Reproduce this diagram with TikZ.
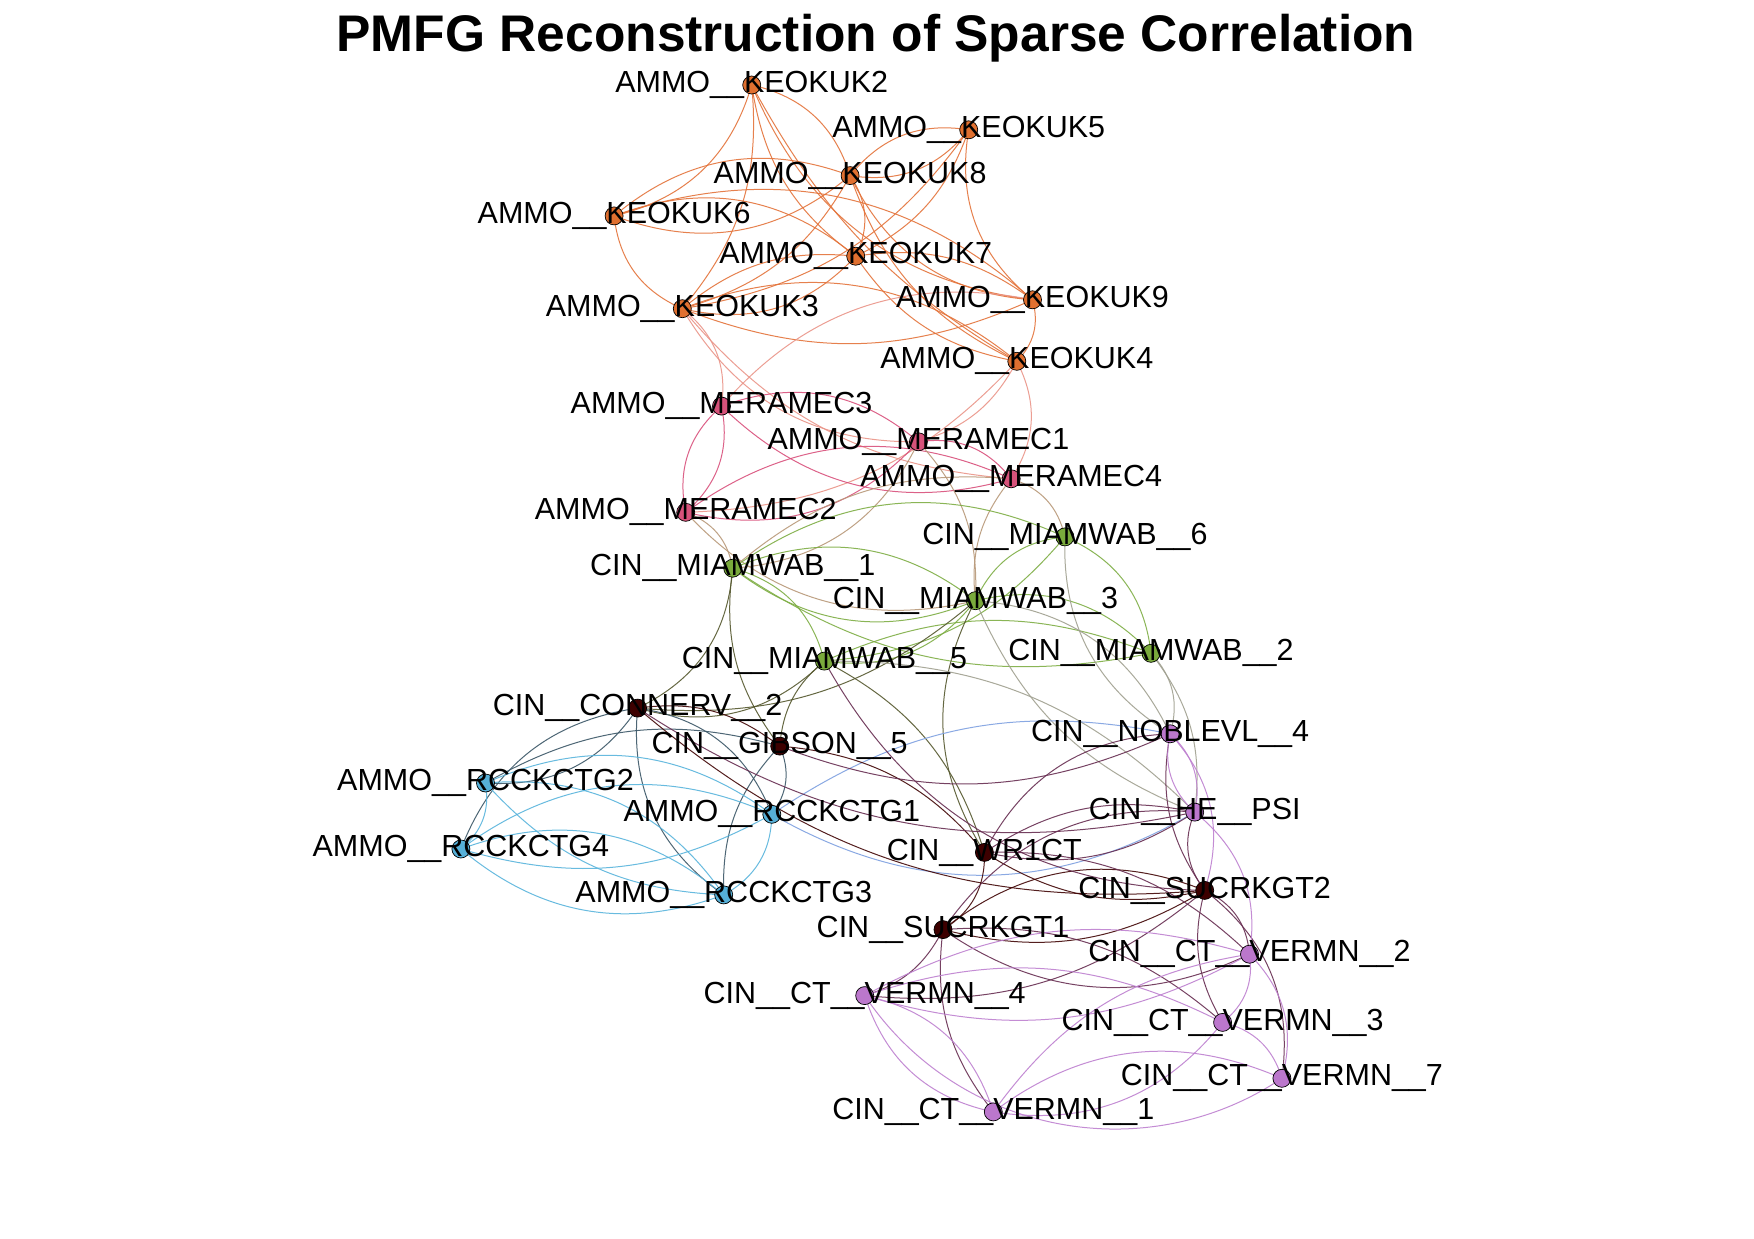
\documentclass[tikz,border=0pt]{standalone}
\usepackage{fontspec}
\setmainfont{Liberation Sans}
\definecolor{corng}{HTML}{E07030}
\definecolor{cpnk}{HTML}{D6527A}
\definecolor{cgrn}{HTML}{7AAA3C}
\definecolor{cmar}{HTML}{3D0000}
\definecolor{cblu}{HTML}{56B0D8}
\definecolor{cpur}{HTML}{BB77CC}
\definecolor{eorng}{HTML}{E4733A}
\definecolor{eop}{HTML}{EA9488}
\definecolor{epnk}{HTML}{D9507C}
\definecolor{epg}{HTML}{B89878}
\definecolor{egrn}{HTML}{7EAE44}
\definecolor{egm}{HTML}{55582E}
\definecolor{egp}{HTML}{A0A090}
\definecolor{emb}{HTML}{3A5666}
\definecolor{eblu}{HTML}{58B4DC}
\definecolor{ebp}{HTML}{7EA0E0}
\definecolor{emar}{HTML}{420606}
\definecolor{emp}{HTML}{682E52}
\definecolor{epur}{HTML}{BE80D0}
\tikzset{
  vtx/.style={circle, draw=black, line width=0.7pt, minimum size=18pt, inner sep=0pt},
  lbl/.style={font=\fontsize{30.5}{33}\selectfont, inner sep=0pt, text=black},
  ed/.style={line width=1pt, opacity=0.9},
}
\begin{document}
\begin{tikzpicture}[x=1pt,y=-1pt]
\useasboundingbox[fill=white] (0,0) rectangle (1754,1239);
% coordinates
\coordinate (K2) at (751.7,85.0);
\coordinate (K5) at (968.7,129.8);
\coordinate (K8) at (850.1,175.6);
\coordinate (K6) at (614.1,215.9);
\coordinate (K7) at (855.7,256.2);
\coordinate (K9) at (1032.5,299.8);
\coordinate (K3) at (682.3,308.7);
\coordinate (K4) at (1016.8,361.3);
\coordinate (M3) at (721.5,406.1);
\coordinate (M1) at (918.4,441.8);
\coordinate (M4) at (1011.2,478.8);
\coordinate (M2) at (685.7,512.3);
\coordinate (W6) at (1064.9,536.9);
\coordinate (W1) at (732.7,568.2);
\coordinate (W3) at (975.4,600.7);
\coordinate (W2) at (1151.0,653.3);
\coordinate (W5) at (824.4,661.1);
\coordinate (CON) at (637.6,708.1);
\coordinate (GIB) at (779.7,746.1);
\coordinate (NOB) at (1170.1,733.8);
\coordinate (R2) at (485.5,783.0);
\coordinate (R1) at (771.8,814.3);
\coordinate (HE) at (1194.7,812.1);
\coordinate (VR) at (984.4,852.4);
\coordinate (R4) at (460.9,849.0);
\coordinate (S2) at (1204.7,890.4);
\coordinate (R3) at (723.7,894.9);
\coordinate (S1) at (943.0,929.6);
\coordinate (V2) at (1249.5,954.2);
\coordinate (V4) at (864.7,995.6);
\coordinate (V3) at (1222.6,1022.4);
\coordinate (V7) at (1281.9,1078.3);
\coordinate (V1) at (993.3,1111.9);
% edges
\foreach \a/\b/\c/\s [evaluate=\s as \bb using 1.5*\s] in {
 K2/K6/eorng/20, K2/K8/eorng/20, K2/K7/eorng/-15, K2/K3/eorng/15, K2/K9/eorng/-20, K2/K4/eorng/-10,
 K5/K8/eorng/20, K5/K8/eorng/-20, K5/K7/eorng/15, K5/K9/eorng/-20, K5/K3/eorng/15,
 K8/K6/eorng/20, K8/K6/eorng/-20, K8/K7/eorng/20, K8/K3/eorng/15, K8/K9/eorng/-20, K8/K4/eorng/-15,
 K6/K7/eorng/20, K6/K3/eorng/-20, K6/K9/eorng/20, K7/K3/eorng/20, K7/K3/eorng/-15, K7/K9/eorng/15, K7/K4/eorng/-15,
 K3/K9/eorng/-15, K3/K4/eorng/20, K9/K4/eorng/20,
 K3/M3/eop/20, K3/M1/eop/-20, K3/M4/eop/-15, K4/M1/eop/15, K4/M4/eop/20, K9/M3/eop/-20, K4/M2/eop/15,
 M3/M1/epnk/20, M3/M4/epnk/-20, M3/M2/epnk/20, M3/M2/epnk/-20, M1/M4/epnk/20, M1/M2/epnk/20, M2/M4/epnk/20,
 M2/W1/epg/20, M1/W1/epg/20, M1/W3/epg/15, M4/W3/epg/-15, M4/W6/epg/20, M2/W3/epg/-20, M4/W1/epg/-15,
 W1/W3/egrn/20, W1/W3/egrn/-20, W1/W6/egrn/20, W1/W5/egrn/20, W1/W2/egrn/-15, W3/W6/egrn/20, W3/W5/egrn/20,
 W3/W2/egrn/20, W6/W2/egrn/20, W5/W2/egrn/15, W5/W6/egrn/-15,
 W1/CON/egm/20, W5/CON/egm/20, W5/GIB/egm/-15, W3/VR/egm/-20, W3/CON/egm/15, W5/VR/egm/15, W1/GIB/egm/-15,
 W3/NOB/egp/20, W3/HE/egp/-15, W2/NOB/egp/20, W2/HE/egp/15, W6/NOB/egp/-20, W5/HE/egp/15,
 CON/R2/emb/20, CON/R1/emb/20, CON/R3/emb/-20, GIB/R1/emb/20, GIB/R3/emb/-15, CON/R4/emb/-20, GIB/R2/emb/-15,
 R2/R1/eblu/20, R2/R4/eblu/20, R2/R3/eblu/20, R2/R3/eblu/-15, R4/R1/eblu/20, R4/R1/eblu/-15, R4/R3/eblu/20, R4/R3/eblu/-20, R1/R3/eblu/20,
 R1/HE/ebp/-20, R1/NOB/ebp/15,
 CON/GIB/emar/15, GIB/VR/emar/15, VR/S1/emar/20, VR/S2/emar/-15, S1/S2/emar/20, S1/S2/emar/-15, CON/S2/emar/-15,
 CON/HE/emp/-15, GIB/NOB/emp/-15, W5/S2/emp/-20,
 VR/NOB/emp/20, VR/HE/emp/15, VR/HE/emp/-15, S2/NOB/emp/15, S2/HE/emp/20, S1/HE/emp/20, S1/V4/emp/15, S1/V2/emp/-20,
 S1/V3/emp/15, S2/V2/emp/20, S2/V3/emp/-15, S2/V7/emp/20, S2/V4/emp/15, VR/V2/emp/15, S1/V1/emp/-15,
 NOB/HE/epur/20, NOB/HE/epur/-20, NOB/S2/epur/20, HE/V2/epur/20, V2/V3/epur/20, V2/V7/epur/20, V2/V4/epur/15, V2/V1/epur/-15,
 V3/V7/epur/20, V3/V4/epur/-15, V3/V1/epur/20, V4/V7/epur/-30, V7/V1/epur/-20, V4/V1/epur/20, V4/V1/epur/-20, V2/V4/epur/-15}
 { \draw[ed, draw=\c] (\a) to[bend left=\bb] (\b); }
% vertices
\foreach \n/\c in {K2/corng,K5/corng,K8/corng,K6/corng,K7/corng,K9/corng,K3/corng,K4/corng,
  M3/cpnk,M1/cpnk,M4/cpnk,M2/cpnk,
  W6/cgrn,W1/cgrn,W3/cgrn,W2/cgrn,W5/cgrn,
  CON/cmar,GIB/cmar,VR/cmar,S1/cmar,S2/cmar,
  R2/cblu,R1/cblu,R4/cblu,R3/cblu,
  NOB/cpur,HE/cpur,V2/cpur,V4/cpur,V3/cpur,V7/cpur,V1/cpur}
  { \node[vtx, fill=\c] (n\n) at (\n) {}; }
% labels
\node[lbl] (tK2) at (K2) {AMMO\_\_KEOKUK2};
\node[lbl] (tK5) at (K5) {AMMO\_\_KEOKUK5};
\node[lbl] (tK8) at (K8) {AMMO\_\_KEOKUK8};
\node[lbl] (tK6) at (K6) {AMMO\_\_KEOKUK6};
\node[lbl] (tK7) at (K7) {AMMO\_\_KEOKUK7};
\node[lbl] (tK9) at (K9) {AMMO\_\_KEOKUK9};
\node[lbl] (tK3) at (K3) {AMMO\_\_KEOKUK3};
\node[lbl] (tK4) at (K4) {AMMO\_\_KEOKUK4};
\node[lbl] (tM3) at (M3) {AMMO\_\_MERAMEC3};
\node[lbl] (tM1) at (M1) {AMMO\_\_MERAMEC1};
\node[lbl] (tM4) at (M4) {AMMO\_\_MERAMEC4};
\node[lbl] (tM2) at (M2) {AMMO\_\_MERAMEC2};
\node[lbl] (tW6) at (W6) {CIN\_\_MIAMWAB\_\_6};
\node[lbl] (tW1) at (W1) {CIN\_\_MIAMWAB\_\_1};
\node[lbl] (tW3) at (W3) {CIN\_\_MIAMWAB\_\_3};
\node[lbl] (tW2) at (W2) {CIN\_\_MIAMWAB\_\_2};
\node[lbl] (tW5) at (W5) {CIN\_\_MIAMWAB\_\_5};
\node[lbl] (tCON) at (CON) {CIN\_\_CONNERV\_\_2};
\node[lbl] (tGIB) at (GIB) {CIN\_\_GIBSON\_\_5};
\node[lbl] (tNOB) at (NOB) {CIN\_\_NOBLEVL\_\_4};
\node[lbl] (tR2) at (R2) {AMMO\_\_RCCKCTG2};
\node[lbl] (tR1) at (R1) {AMMO\_\_RCCKCTG1};
\node[lbl] (tHE) at (HE) {CIN\_\_HE\_\_PSI};
\node[lbl] (tVR) at (VR) {CIN\_\_WR1CT};
\node[lbl] (tR4) at (R4) {AMMO\_\_RCCKCTG4};
\node[lbl] (tS2) at (S2) {CIN\_\_SUCRKGT2};
\node[lbl] (tR3) at (R3) {AMMO\_\_RCCKCTG3};
\node[lbl] (tS1) at (S1) {CIN\_\_SUCRKGT1};
\node[lbl] (tV2) at (V2) {CIN\_\_CT\_\_VERMN\_\_2};
\node[lbl] (tV4) at (V4) {CIN\_\_CT\_\_VERMN\_\_4};
\node[lbl] (tV3) at (V3) {CIN\_\_CT\_\_VERMN\_\_3};
\node[lbl] (tV7) at (V7) {CIN\_\_CT\_\_VERMN\_\_7};
\node[lbl] (tV1) at (V1) {CIN\_\_CT\_\_VERMN\_\_1};
% title
\node[font=\fontsize{51.5}{56}\selectfont\bfseries, inner sep=0pt] (title) at (876,38) {PMFG Reconstruction of Sparse Correlation};
\end{tikzpicture}
\end{document}
